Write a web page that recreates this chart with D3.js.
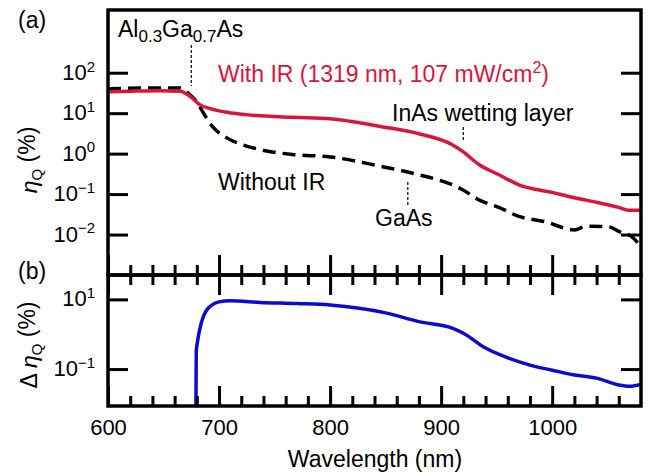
<!DOCTYPE html>
<meta charset="utf-8">
<head>
  <title>Quantum efficiency</title>
</head>
<body style="margin:0;background:#fff">
<style>
text { font-family: "Liberation Sans", Arial, sans-serif; fill: #000; }
.tick text { font-size: 22px; }
.lab { font-size: 23px; }
</style>
<svg width="652" height="475"></svg>
<script src="https://d3js.org/d3.v7.min.js"></script>
<script>

// wavelength (nm) and quantum efficiency (%)
var wlIR    = [600, 620, 647, 665, 674, 683, 692, 707, 730, 766, 800, 845, 880, 910, 919, 934, 952, 970, 1000, 1020, 1040, 1060, 1069, 1080];
var withIR  = [34, 35, 36, 35, 26, 16, 13, 10.5, 8.9, 7.9, 7.3, 4.7, 3.1, 1.66, 1.15, 0.54, 0.30, 0.17, 0.11, 0.081, 0.063, 0.047, 0.040, 0.040];

var wlNo    = [600, 647, 665, 674, 680, 686, 694, 707, 721, 737, 766, 800, 845, 880, 910, 919, 934, 952, 970, 993, 1020, 1031, 1051, 1060, 1071, 1080];
var withoutIR = [40, 42, 42, 28, 19, 10, 4.7, 2.45, 1.66, 1.26, 0.95, 0.83, 0.49, 0.30, 0.17, 0.13, 0.072, 0.047, 0.028, 0.021, 0.013, 0.016, 0.0155, 0.012, 0.0091, 0.0051];

var wlDelta = [679, 679.5, 689, 700, 710, 737, 770, 800, 850, 880, 910, 920, 940, 960, 980, 1000, 1020, 1040, 1060, 1070, 1080];
var delta   = [0.001, 0.35, 5.0, 8.5, 9.1, 8.2, 7.6, 6.9, 4.1, 2.3, 1.5, 1.07, 0.40, 0.21, 0.13, 0.093, 0.068, 0.055, 0.035, 0.032, 0.037];

var xMajor = [600, 700, 800, 900, 1000];
var xMinor = d3.range(620, 1080, 20).filter(function(v) { return v % 100 != 0; });
var topTicks = [-2, -1, 0, 1, 2];   // exponents
var botTicks = [-1, 1];

var svg = d3.select("svg"),
    L = 108, R = 641, T = 10, M = 275, B = 406;

var x = d3.scaleLinear().domain([600, 1080]).range([L, R]);
var yA = d3.scaleLog().domain([1e-3, Math.pow(10, 3.55)]).range([M, T]);
var yB = d3.scaleLog().domain([Math.pow(10, -2.06), Math.pow(10, 1.7)]).range([B, M]);

svg.append("clipPath").attr("id", "ca").append("rect").attr("x", L).attr("y", T).attr("width", R - L).attr("height", M - T);
svg.append("clipPath").attr("id", "cb").append("rect").attr("x", L).attr("y", M).attr("width", R - L).attr("height", B - M);

function pairs(xs, ys) { return xs.map(function(v, i) { return [v, ys[i]]; }); }

var lineA = d3.line().x(function(d) { return x(d[0]); }).y(function(d) { return yA(d[1]); }).curve(d3.curveMonotoneX);
var lineB = d3.line().x(function(d) { return x(d[0]); }).y(function(d) { return yB(d[1]); }).curve(d3.curveMonotoneX);

var gA = svg.append("g").attr("clip-path", "url(#ca)");
gA.append("path").attr("d", lineA(pairs(wlNo, withoutIR)))
    .attr("fill", "none").attr("stroke", "#000").attr("stroke-width", 3.5).attr("stroke-dasharray", "13,7");
gA.append("path").attr("d", lineA(pairs(wlIR, withIR)))
    .attr("fill", "none").attr("stroke", "#dc143c").attr("stroke-width", 3.5);

svg.append("g").attr("clip-path", "url(#cb)")
  .append("path").attr("d", lineB(pairs(wlDelta, delta)))
    .attr("fill", "none").attr("stroke", "#0a0ad0").attr("stroke-width", 3.5).attr("stroke-linejoin", "round");

// frames
[[T, M], [M, B]].forEach(function(p) {
  svg.append("rect").attr("x", L).attr("y", p[0]).attr("width", R - L).attr("height", p[1] - p[0])
    .attr("fill", "none").attr("stroke", "#000").attr("stroke-width", 3.5);
});

function styleAxis(g) {
  g.select(".domain").remove();
  g.selectAll(".tick line").attr("stroke", "#000").attr("stroke-width", 3);
}

// x ticks crossing the shared line
svg.append("g").attr("transform", "translate(0," + (M - 20) + ")")
  .call(d3.axisBottom(x).tickValues(xMajor).tickSize(40).tickFormat("")).call(styleAxis);
svg.append("g").attr("transform", "translate(0," + (M - 10) + ")")
  .call(d3.axisBottom(x).tickValues(xMinor).tickSize(20).tickFormat("")).call(styleAxis);

// bottom axis, inward ticks
svg.append("g").attr("transform", "translate(0," + B + ")")
  .call(d3.axisBottom(x).tickValues(xMajor).tickSizeInner(-20).tickSizeOuter(0).tickPadding(13).tickFormat(d3.format("d")))
  .call(styleAxis)
  .selectAll("text").attr("font-size", 22);
svg.append("g").attr("transform", "translate(0," + B + ")")
  .call(d3.axisBottom(x).tickValues(xMinor).tickSizeInner(-10).tickSizeOuter(0).tickFormat("")).call(styleAxis);

function powLabels(g) {
  g.selectAll(".tick text").each(function(e) {
    var t = d3.select(this).text(null).attr("text-anchor", "end").attr("dy", "0.3em");
    t.append("tspan").text("10");
    t.append("tspan").attr("dy", "-0.55em").attr("font-size", 15).text(e < 0 ? "\u2212" + (-e) : e);
  });
}

function yAxes(scale, exps) {
  var vals = exps.map(function(e) { return Math.pow(10, e); });
  svg.append("g").attr("transform", "translate(" + L + ",0)")
    .call(d3.axisLeft(scale).tickValues(vals).tickSizeInner(-20).tickSizeOuter(0).tickPadding(13)
      .tickFormat(function(d) { return Math.round(Math.log10(d)); }))
    .call(styleAxis)
    .call(function(g) {
      g.selectAll(".tick").each(function(d) { d3.select(this).select("text").datum(Math.round(Math.log10(d))); });
    })
    .call(powLabels);
  svg.append("g").attr("transform", "translate(" + R + ",0)")
    .call(d3.axisRight(scale).tickValues(vals).tickSizeInner(-20).tickSizeOuter(0).tickFormat(""))
    .call(styleAxis);
}
yAxes(yA, topTicks);
yAxes(yB, botTicks);

// axis titles
svg.append("text").attr("class", "lab").attr("x", 375).attr("y", 467).attr("text-anchor", "middle").attr("font-size", 23)
  .text("Wavelength (nm)");

function etaLabel(cx, cy, prefix) {
  var t = svg.append("text").attr("class", "lab").attr("text-anchor", "middle")
    .attr("transform", "translate(" + cx + "," + cy + ") rotate(-90)");
  if (prefix) t.append("tspan").text(prefix);
  t.append("tspan").attr("font-style", "italic").text("\u03b7");
  t.append("tspan").attr("font-size", 15).attr("dy", "0.3em").text("Q");
  t.append("tspan").attr("dy", "-0.3em").text(" (%)");
}
etaLabel(37, 160);
etaLabel(37, 345, "\u0394 ");

svg.append("text").attr("class", "lab").attr("x", 18).attr("y", 28).text("(a)");
svg.append("text").attr("class", "lab").attr("x", 18).attr("y", 279).text("(b)");

// annotations
var al = svg.append("text").attr("class", "lab").attr("x", 118).attr("y", 37);
al.append("tspan").text("Al");
al.append("tspan").attr("font-size", 17).attr("dy", 5).text("0.3");
al.append("tspan").attr("dy", -5).text("Ga");
al.append("tspan").attr("font-size", 17).attr("dy", 5).text("0.7");
al.append("tspan").attr("dy", -5).text("As");

var ir = svg.append("text").attr("class", "lab").attr("x", 218).attr("y", 82).attr("fill", "#dc143c").style("fill", "#dc143c");
ir.append("tspan").text("With IR (1319 nm, 107 mW/cm");
ir.append("tspan").attr("font-size", 16).attr("dy", -9).text("2");
ir.append("tspan").attr("dy", 9).text(")");

svg.append("text").attr("class", "lab").attr("x", 392).attr("y", 121).text("InAs wetting layer");
svg.append("text").attr("class", "lab").attr("x", 218).attr("y", 190).text("Without IR");
svg.append("text").attr("class", "lab").attr("x", 375).attr("y", 226).text("GaAs");

function leader(wl, y1, y2) {
  svg.append("line").attr("x1", x(wl)).attr("x2", x(wl)).attr("y1", y1).attr("y2", y2)
    .attr("stroke", "#000").attr("stroke-width", 1.2).attr("stroke-dasharray", "3,2");
}
leader(675, 45, 86);
leader(920, 127, 142);
leader(870, 182, 207);

</script>
</body>
</html>
